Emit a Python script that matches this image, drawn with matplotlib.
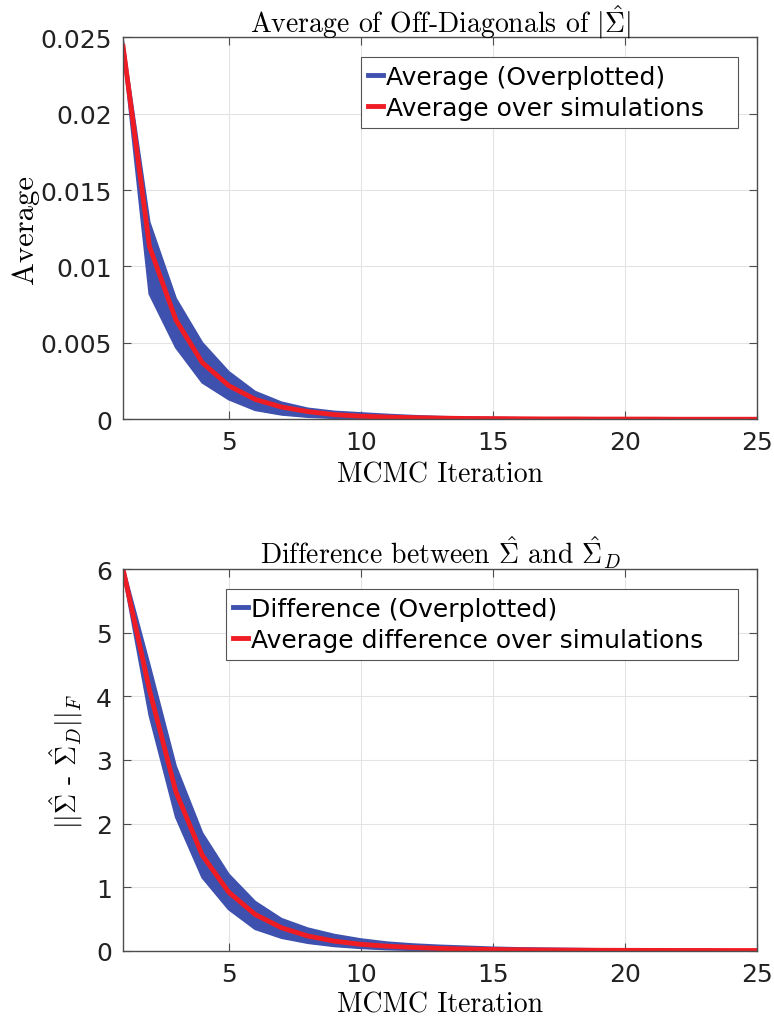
import numpy as np
import matplotlib
matplotlib.use("Agg")
import matplotlib.pyplot as plt

# --------------------------------------------------
# Data (MCMC iterations 1..25)
# --------------------------------------------------

iters = np.arange(1, 26)

# top panel: average of off-diagonals of |Sigma_hat|
avg_upper = [0.0248, 0.0129, 0.0079, 0.0050, 0.0031, 0.0018, 0.0011, 0.0007,
             0.0005, 0.0004, 0.0003, 0.00022, 0.00016, 0.00012, 0.0001, 0.00008,
             0.00006, 0.00005, 0.00004, 0.00003, 0.00002, 0.00002, 0.00001,
             0.00001, 0.00001]
avg_lower = [0.0242, 0.0082, 0.0047, 0.0024, 0.0013, 0.0006, 0.0003, 0.00015,
             0.00008, 0.00004, 0.00002, 0.00001, 0.0, 0.0, 0.0, 0.0, 0.0, 0.0,
             0.0, 0.0, 0.0, 0.0, 0.0, 0.0, 0.0]
avg_mean = [0.0244, 0.0113, 0.0065, 0.0037, 0.0022, 0.0013, 0.0008, 0.0005,
            0.0003, 0.0002, 0.00014, 0.0001, 0.00007, 0.00005, 0.00004, 0.00003,
            0.00002, 0.00002, 0.00001, 0.00001, 0.00001, 0.0, 0.0, 0.0, 0.0]

# bottom panel: ||Sigma_hat - Sigma_hat_D||_F
diff_upper = [6.05, 4.5, 2.9, 1.85, 1.2, 0.77, 0.5, 0.35, 0.25, 0.18, 0.13, 0.1,
              0.08, 0.065, 0.05, 0.04, 0.035, 0.03, 0.025, 0.02, 0.017, 0.015,
              0.012, 0.01, 0.01]
diff_lower = [5.95, 3.7, 2.1, 1.15, 0.65, 0.34, 0.2, 0.12, 0.07, 0.04, 0.02, 0.01,
              0.005, 0.003, 0.002, 0.001, 0.0, 0.0, 0.0, 0.0, 0.0, 0.0, 0.0,
              0.0, 0.0]
diff_mean = [6.0, 4.1, 2.5, 1.5, 0.92, 0.57, 0.36, 0.23, 0.15, 0.1, 0.07, 0.05,
             0.035, 0.025, 0.018, 0.013, 0.01, 0.008, 0.006, 0.005, 0.004, 0.003,
             0.003, 0.002, 0.002]

x_ticks = [5, 10, 15, 20, 25]
top_yticks = [0, 0.005, 0.01, 0.015, 0.02, 0.025]
top_yticklabels = ["0", "0.005", "0.01", "0.015", "0.02", "0.025"]
bot_yticks = [0, 1, 2, 3, 4, 5, 6]

# --------------------------------------------------
# Style
# --------------------------------------------------

blue = "#3F51AE"
red = "#F01C24"
axis_col = "#4D4D4D"

plt.rcParams["font.family"] = "DejaVu Sans"
plt.rcParams["mathtext.fontset"] = "cm"

serif = "cmr10"
tick_fs = 18
title_fs = 20
label_fs = 20
legend_fs = 18


def style_axes(ax, yticks, yticklabels, ylim, xlabelpad):
    ax.set_xlim(1, 25)
    ax.set_ylim(*ylim)
    ax.set_xticks(x_ticks)
    ax.set_yticks(yticks)
    ax.set_yticklabels(yticklabels)
    ax.tick_params(direction="in", length=6, width=0.8, colors=axis_col,
                   labelcolor="#222222", labelsize=tick_fs,
                   top=True, right=True, pad=8)
    ax.grid(color="#E3E3E3", linewidth=0.8)
    ax.set_axisbelow(True)
    for sp in ax.spines.values():
        sp.set_color(axis_col)
        sp.set_linewidth(1.0)
    ax.set_xlabel("MCMC Iteration", fontfamily=serif, fontsize=label_fs,
                  labelpad=xlabelpad)


def add_legend(ax, x0, width):
    leg = ax.legend(loc="upper left", bbox_to_anchor=(x0, 0.8, width, 0.148),
                    mode="expand", fontsize=legend_fs, handlelength=0.6,
                    handletextpad=0.1, labelspacing=0.3, borderpad=0.3,
                    borderaxespad=0, fancybox=False, framealpha=1,
                    edgecolor="#555555")
    leg.get_frame().set_linewidth(0.8)
    for line in leg.get_lines():
        line.set_linewidth(3.5)
    return leg


fig = plt.figure(figsize=(7.74, 10.2), dpi=100)
ax1 = fig.add_axes([0.159, 0.588, 0.819, 0.3745])
ax2 = fig.add_axes([0.159, 0.067, 0.819, 0.374])

# --------------------------------------------------
# Top panel
# --------------------------------------------------

ax1.fill_between(iters, avg_lower, avg_upper, color=blue, linewidth=0)
ax1.plot(iters, avg_upper, color=blue, lw=1.5, label="Average (Overplotted)")
ax1.plot(iters, avg_lower, color=blue, lw=1.5)
ax1.plot(iters, avg_mean, color=red, lw=3.5, label="Average over simulations")

style_axes(ax1, top_yticks, top_yticklabels, (0, 0.025), 5)
ax1.set_title(r"Average of Off-Diagonals of $|\hat{\Sigma}|$",
              fontfamily=serif, fontsize=title_fs, pad=4)
ax1.set_ylabel("Average", fontfamily=serif, fontsize=22, labelpad=1)
add_legend(ax1, 0.375, 0.595)

# --------------------------------------------------
# Bottom panel
# --------------------------------------------------

ax2.fill_between(iters, diff_lower, diff_upper, color=blue, linewidth=0)
ax2.plot(iters, diff_upper, color=blue, lw=1.5, label="Difference (Overplotted)")
ax2.plot(iters, diff_lower, color=blue, lw=1.5)
ax2.plot(iters, diff_mean, color=red, lw=3.5,
         label="Average difference over simulations")

style_axes(ax2, bot_yticks, [str(v) for v in bot_yticks], (0, 6), 4)
ax2.set_title(r"Difference between $\hat{\Sigma}$ and $\hat{\Sigma}_D$",
              fontfamily=serif, fontsize=title_fs, pad=4)
ax2.set_ylabel(r"$||\hat{\Sigma}$ - $\hat{\Sigma}_D||_F$", fontfamily=serif,
               fontsize=label_fs, labelpad=8)
add_legend(ax2, 0.162, 0.808)

fig.savefig("out.png", dpi=100)
plt.close(fig)
